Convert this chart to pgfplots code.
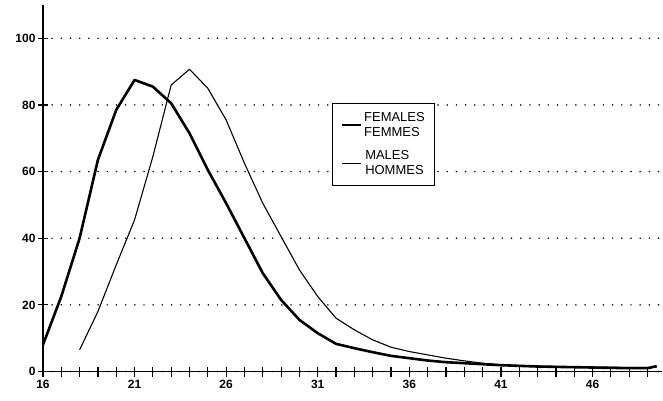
\documentclass[border=0pt]{standalone}
\usepackage{fontspec}
\setmainfont{Liberation Sans}
\usepackage{pgfplots}
\pgfplotsset{compat=1.18}
\begin{document}
\begin{tikzpicture}
\begin{axis}[
    scale only axis,
    width=620pt, height=367pt,
    xmin=16, xmax=49.8,
    ymin=0, ymax=110,
    axis lines=left,
    axis line style={-, line width=1.6pt},
    xtick={16,21,...,46},
    minor xtick={17,...,49},
    ytick={0,20,...,100},
    tick align=center,
    major tick length=10pt,
    minor tick length=10pt,
    tick style={black, line width=1.2pt},
    minor tick style={black, line width=1.2pt},
    ticklabel style={font=\bfseries\fontsize{12}{14}\selectfont},
    /pgf/number format/assume math mode=true,
    xticklabel style={yshift=0pt},
    yticklabel style={xshift=1pt},
    ymajorgrids=true,
    grid style={black, line width=1.7pt, dash pattern=on 0pt off 9.2pt, line cap=round},
    legend style={
        at={(rel axis cs:0.467,0.733)}, anchor=north west,
        draw=black, line width=1pt,
        font=\fontsize{13}{15}\selectfont,
        cells={align=left},
        inner xsep=8pt, inner ysep=7pt,
        row sep=9pt,
    },
    legend image code/.code={\draw[#1] (0pt,0pt) -- (19pt,0pt);},
    clip=false,
]
\addplot[black, line width=2.6pt, line join=round] coordinates {
    (16,8)(17,22.5)(18,40)(19,63.5)(20,78.5)(21,87.5)(22,85.5)(23,80.5)
    (24,71.5)(25,60.5)(26,50.5)(27,40)(28,29.5)(29,21.5)(30,15.5)(31,11.5)
    (32,8.3)(33,7)(34,5.8)(35,4.7)(36,4)(37,3.3)(38,2.8)(39,2.5)(40,2.2)
    (41,1.9)(42,1.7)(43,1.5)(44,1.4)(45,1.3)(46,1.2)(47,1.1)(48,1)(49,1)(49.5,1.6)
};
\addplot[black, line width=1.1pt, line join=round] coordinates {
    (18,6.5)(19,18)(20,32)(21,45.5)(22,64.5)(23,86)(24,90.7)(25,85)
    (26,75.5)(27,62.5)(28,50.5)(29,40.5)(30,30.5)(31,22.5)(32,16)(33,12.5)
    (34,9.5)(35,7.3)(36,6)(37,5)(38,4)(39,3.2)(40,2.5)(41,2)(42,1.8)(43,1.6)
    (44,1.5)(45,1.4)(46,1.3)(47,1.3)(48,1.2)(49,1.2)(49.5,1.5)
};
\legend{FEMALES\\FEMMES, MALES\\HOMMES}
\path (rel axis cs:0,0) ++(-43pt,-29pt) (rel axis cs:1,1) ++(0pt,5pt);
\end{axis}
\end{tikzpicture}
\end{document}
